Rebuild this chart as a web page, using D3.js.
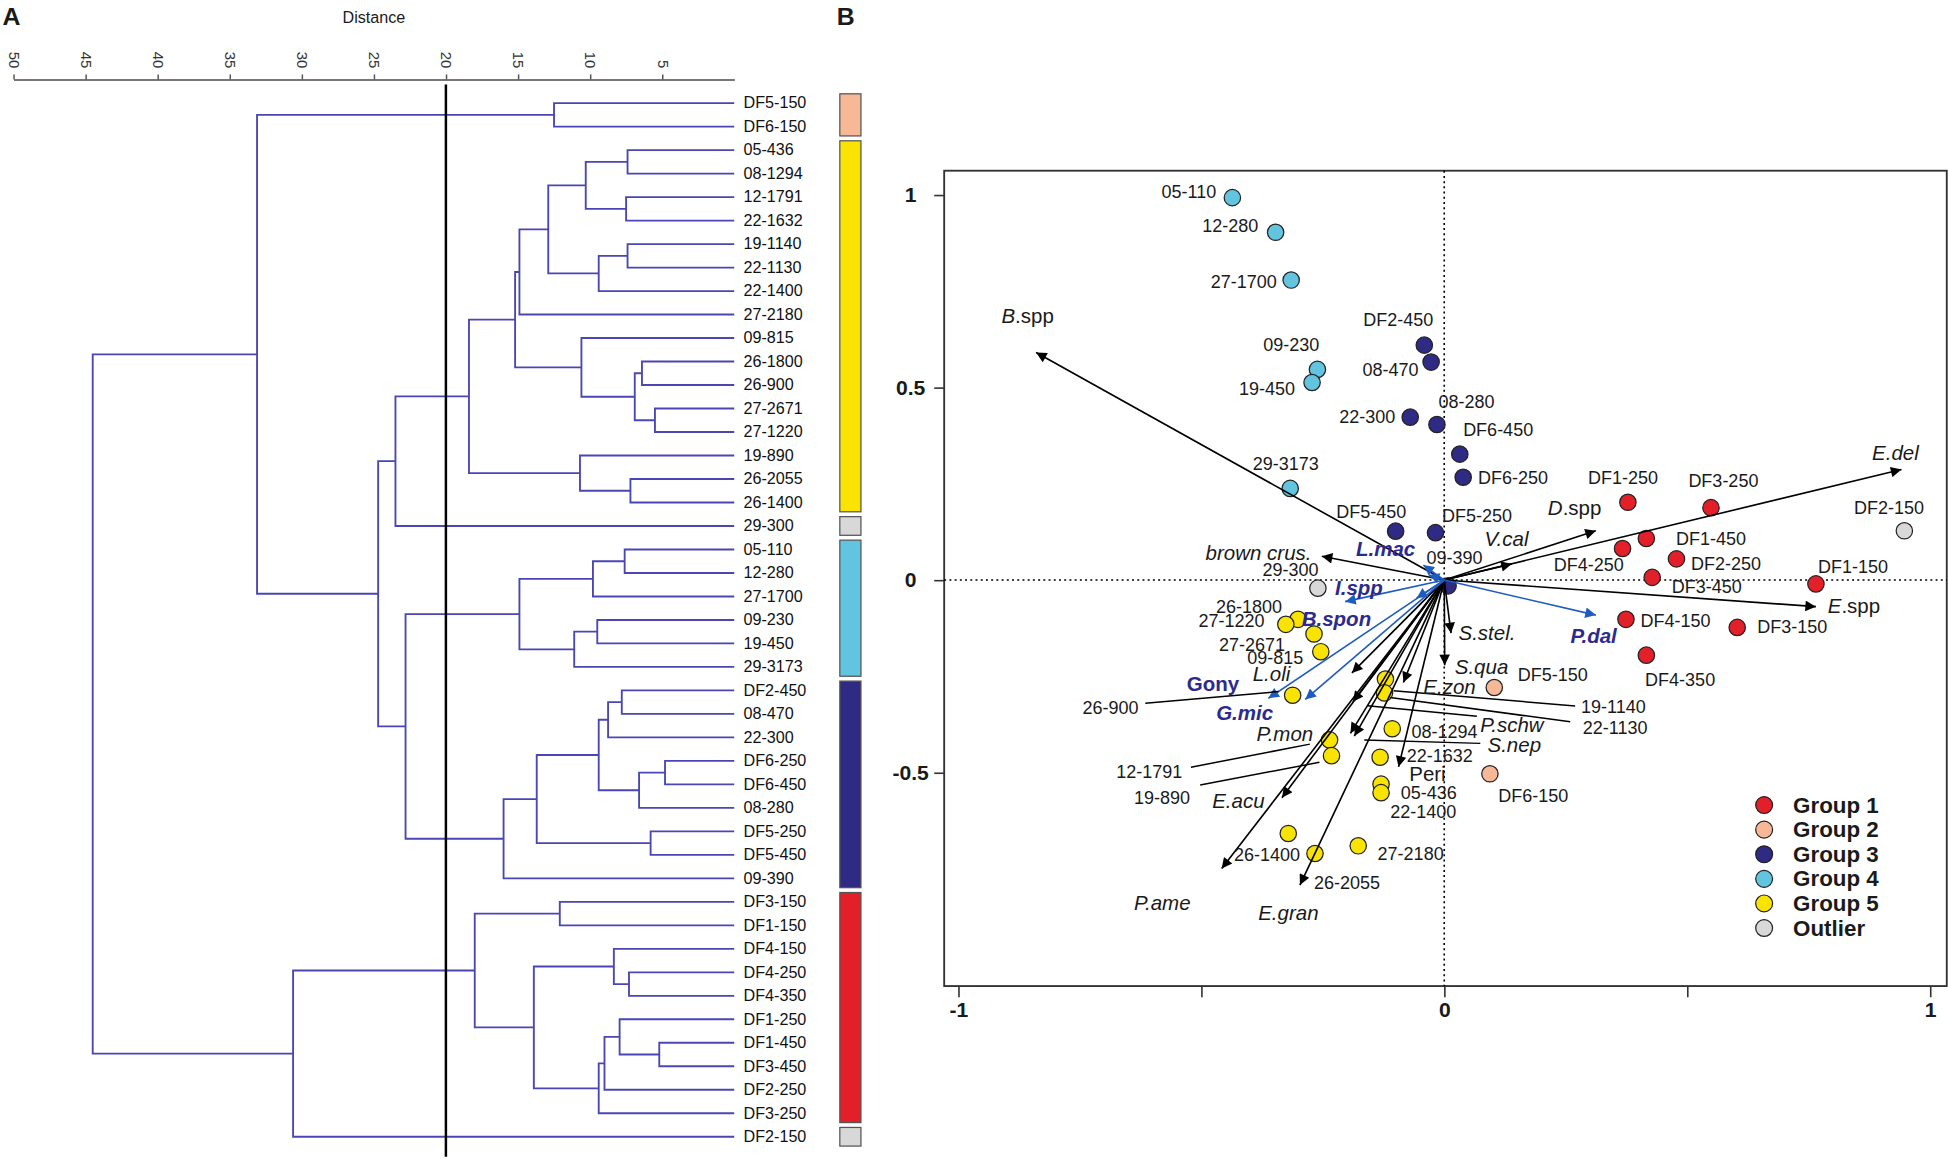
<!DOCTYPE html>
<html>
<head>
<meta charset="utf-8">
<title>Cluster dendrogram and PCA biplot</title>
<script src="https://d3js.org/d3.v7.min.js"></script>
<style>
  body { margin: 0; background: #fff; }
  svg { display: block; font-family: "Liberation Sans", Arial, Helvetica, sans-serif; }
</style>
</head>
<body>
<div id="chart"></div>
<script>
// ---------- data ----------
// dendrogram leaves, top to bottom
var leaves = ["DF5-150","DF6-150","05-436","08-1294","12-1791","22-1632","19-1140","22-1130",
  "22-1400","27-2180","09-815","26-1800","26-900","27-2671","27-1220","19-890","26-2055",
  "26-1400","29-300","05-110","12-280","27-1700","09-230","19-450","29-3173","DF2-450",
  "08-470","22-300","DF6-250","DF6-450","08-280","DF5-250","DF5-450","09-390","DF3-150",
  "DF1-150","DF4-150","DF4-250","DF4-350","DF1-250","DF1-450","DF3-450","DF2-250",
  "DF3-250","DF2-150"];

// merges: [child a, child b, distance]; node i gets id "n" + (i + 1)
var merges = [
  ["DF5-150","DF6-150",12.5], ["05-436","08-1294",7.4], ["12-1791","22-1632",7.5],
  ["n2","n3",10.3], ["19-1140","22-1130",7.4], ["n5","22-1400",9.4], ["n4","n6",12.9],
  ["n7","27-2180",14.9], ["26-1800","26-900",6.4], ["27-2671","27-1220",5.5],
  ["n9","n10",6.9], ["09-815","n11",10.6], ["n8","n12",15.2], ["26-2055","26-1400",7.2],
  ["19-890","n14",10.7], ["n13","n15",18.4], ["n16","29-300",23.5], ["05-110","12-280",7.6],
  ["n18","27-1700",9.8], ["09-230","19-450",9.5], ["n20","29-3173",11.1], ["n19","n21",14.9],
  ["DF2-450","08-470",7.8], ["n23","22-300",8.75], ["DF6-250","DF6-450",4.8],
  ["n25","08-280",6.6], ["n24","n26",9.4], ["DF5-250","DF5-450",5.8], ["n27","n28",13.7],
  ["n29","09-390",16.0], ["n22","n30",22.8], ["n17","n31",24.7], ["n1","n32",33.1],
  ["DF3-150","DF1-150",12.1], ["DF4-250","DF4-350",7.3], ["DF4-150","n35",8.35],
  ["DF1-450","DF3-450",5.2], ["DF1-250","n37",7.95], ["n38","DF2-250",9.0],
  ["n39","DF3-250",9.4], ["n36","n40",13.9], ["n34","n41",18.0], ["n42","DF2-150",30.6],
  ["n33","n43",44.5]
];
var cutDistance = 20;
var distTicks = [50,45,40,35,30,25,20,15,10,5];

var groupNames = ["Group 1","Group 2","Group 3","Group 4","Group 5","Outlier"];
var groupColors = ["#e3202a","#f6b896","#2f2a83","#62c4df","#f9e300","#d8d8d8"];

// sites: [name, group (1-5, 6 = outlier), axis 1, axis 2]
var sites = [
  ["05-110",4,-0.436,0.993], ["12-280",4,-0.347,0.903], ["27-1700",4,-0.315,0.779],
  ["09-230",4,-0.261,0.547], ["19-450",4,-0.272,0.513], ["29-3173",4,-0.317,0.238],
  ["DF2-450",3,-0.041,0.610], ["08-470",3,-0.027,0.566], ["22-300",3,-0.070,0.423],
  ["08-280",3,-0.015,0.404], ["DF6-450",3,0.032,0.327], ["DF6-250",3,0.039,0.267],
  ["DF5-450",3,-0.100,0.127], ["DF5-250",3,-0.018,0.123], ["09-390",3,0.008,-0.015],
  ["DF1-250",1,0.378,0.202], ["DF3-250",1,0.549,0.188], ["DF1-450",1,0.416,0.108],
  ["DF4-250",1,0.367,0.082], ["DF2-250",1,0.478,0.055], ["DF3-450",1,0.428,0.007],
  ["DF1-150",1,0.765,-0.010], ["DF4-150",1,0.374,-0.102], ["DF3-150",1,0.603,-0.123],
  ["DF4-350",1,0.416,-0.195], ["DF5-150",2,0.103,-0.279], ["DF6-150",2,0.094,-0.503],
  ["DF2-150",6,0.947,0.128], ["29-300",6,-0.260,-0.021],
  ["26-1800",5,-0.301,-0.102], ["27-1220",5,-0.326,-0.115], ["27-2671",5,-0.268,-0.140],
  ["09-815",5,-0.254,-0.186], ["26-900",5,-0.312,-0.299], ["12-1791",5,-0.236,-0.415],
  ["19-890",5,-0.232,-0.456], ["26-1400",5,-0.321,-0.658], ["26-2055",5,-0.266,-0.710],
  ["27-2180",5,-0.177,-0.690], ["19-1140",5,-0.121,-0.257], ["22-1130",5,-0.123,-0.293],
  ["08-1294",5,-0.107,-0.386], ["22-1632",5,-0.132,-0.460], ["05-436",5,-0.130,-0.530],
  ["22-1400",5,-0.130,-0.552]
];

// species vectors: [name, axis 1, axis 2]
var species = [
  ["B.spp",-0.840,0.591], ["brown crus.",-0.252,0.062], ["E.del",0.941,0.287],
  ["D.spp",0.312,0.128], ["V.cal",0.139,0.042], ["E.spp",0.765,-0.069],
  ["S.stel.",0.014,-0.138], ["S.qua",0.001,-0.221], ["E.zon",-0.084,-0.266],
  ["Peri",-0.094,-0.485], ["P.schw",-0.188,-0.316], ["S.nep",-0.185,-0.405],
  ["P.mon",-0.193,-0.398], ["L.oli",-0.190,-0.241], ["E.acu",-0.334,-0.565],
  ["P.ame",-0.458,-0.749], ["E.gran",-0.297,-0.792]
];
var keySpecies = [
  ["L.mac",-0.043,0.039], ["",-0.032,0.013], ["I.spp",-0.204,-0.056],
  ["B.spon",-0.057,-0.047], ["Gony",-0.362,-0.307], ["G.mic",-0.286,-0.310],
  ["P.dal",0.312,-0.091]
];
var pcaTicksX = [-1,-0.5,0,0.5,1];
var pcaTicksY = [1,0.5,0,-0.5];

// ---------- label layout (px offsets from the mark: dx, dy, anchor, optional leader) ----------
var siteLabelAt = {
  "05-110":[-13,-4.7,"end"], "12-280":[-14,-5,"end"], "27-1700":[-11.5,1.3,"end"],
  "09-230":[1.6,-19.6,"end"], "19-450":[-13.7,5.4,"end"], "29-3173":[-3.5,-19.5,"middle"],
  "DF2-450":[7.3,-20,"end"], "08-470":[-10.2,6.4,"end"], "22-300":[-12,0,"end"],
  "08-280":[1.2,-18.3,"start"], "DF6-450":[2.7,-19.3,"start"], "DF6-250":[12,1,"start"],
  "DF5-450":[8.6,-15.5,"end"], "DF5-250":[5.3,-13.7,"start"], "09-390":[-17.4,-22,"start"],
  "DF1-250":[-4,-19.3,"middle"], "DF3-250":[10,-21.7,"middle"], "DF1-450":[23.8,0.6,"start"],
  "DF4-250":[1,13,"end"], "DF2-250":[11.6,4.3,"start"], "DF3-450":[15.7,8.1,"start"],
  "DF1-150":[1.7,-13.9,"start"], "DF4-150":[11.7,1.1,"start"], "DF3-150":[16.2,0,"start"],
  "DF4-350":[-1,20.2,"start"], "DF5-150":[18.9,-10.1,"start"], "DF6-150":[6.7,17.9,"start"],
  "DF2-150":[-12.3,-18,"middle"], "29-300":[0.5,-15,"end"],
  "26-1800":[-12.9,-10.2,"end"], "27-1220":[-17.2,-2.7,"end"], "27-2671":[-23.3,8.9,"end"],
  "09-815":[-14.1,5.4,"end"],
  "26-900":[-124,10.5,"end",[-118.6,6.5,-11.3,-2.9]],
  "12-1791":[-118.6,25.5,"end",[-111.6,22,-15.8,3.4]],
  "19-890":[-113.8,33.8,"end",[-105.7,23.6,-9.7,5.3]],
  "26-1400":[9.5,17.4,"end"], "26-2055":[-0.8,24.1,"start"], "27-2180":[15.6,6.7,"start"],
  "19-1140":[157.5,22.3,"start",[6.5,9.4,152.7,21.7]],
  "22-1130":[159.6,27.9,"start",[4.6,3.7,149.5,23.3]],
  "08-1294":[15.5,2.4,"start"], "22-1632":[21.4,-1,"start"], "05-436":[15.9,7,"start"],
  "22-1400":[7.3,15.6,"start"]
};
var speciesLabelAt = {
  "B.spp":[-27.9,-30,"start"], "brown crus.":[-8.3,-2.7,"end"], "E.del":[-23.6,-13.4,"start"],
  "D.spp":[-38.6,-18.8,"start"], "V.cal":[-22,-20.1,"start"], "E.spp":[9.5,-1.4,"start"],
  "S.stel.":[6,-0.5,"start"], "S.qua":[8.1,1.3,"start"], "E.zon":[16,3.2,"start"],
  "Peri":[8.6,5.4,"start"],
  "P.schw":[102.5,18,"start",[11.7,3.2,99.8,11.6]],
  "S.nep":[107.2,6.5,"start",[8,3.2,101.4,5.9]],
  "P.mon":[-30,0.4,"end"], "L.oli":[-49.6,0.5,"end"], "E.acu":[-14,2,"end"],
  "P.ame":[-70.6,27.3,"start"], "E.gran":[-33.6,22,"start"],
  "L.mac":[-54.2,-13.4,"start"], "I.spp":[-8.1,-11.5,"start"], "B.spon":[-92.4,16.1,"start"],
  "Gony":[-65.7,-12.1,"start"], "G.mic":[-71.7,10.8,"start"], "P.dal":[-20.4,16.2,"start"]
};

// ---------- svg ----------
var W = 1568, H = 934.5;
var svg = d3.select("#chart").append("svg")
  .attr("width", 1948).attr("height", 1161)
  .attr("viewBox", "0 0 " + W + " " + H);

var ink = "#1a1a1a";
var dendroColor = "#4a47b4";
var blue = "#1f5cbf", keyText = "#2c2a8e";

// ================= panel A: dendrogram =================
var gA = svg.append("g");
gA.append("text").attr("x", 2).attr("y", 20.5)
  .style("font-size", "20px").style("font-weight", "bold").attr("fill", ink).text("A");
gA.append("text").attr("x", 301).attr("y", 13.5).attr("text-anchor", "middle")
  .attr("dominant-baseline", "central").style("font-size", "13px").attr("fill", ink)
  .text("Distance");

var dx = d3.scaleLinear().domain([50, 0]).range([10.8, 591]);
var leafY = d3.scalePoint().domain(leaves).range([83, 915]);

var axisA = gA.append("g").attr("transform", "translate(0,63.9)")
  .call(d3.axisTop(dx).tickValues(distTicks).tickSize(4).tickSizeOuter(0)
    .tickFormat(function (d) { return String(d); }));
axisA.select(".domain").attr("stroke", "#777").attr("stroke-width", 1.5);
axisA.selectAll(".tick line").attr("stroke", "#555").attr("stroke-width", 1.2);
axisA.selectAll(".tick text")
  .attr("transform", "rotate(90)").attr("x", -9).attr("y", 0).attr("dy", "0.35em")
  .style("text-anchor", "end").style("font-size", "12px")
  .style("font-family", "'Liberation Sans', Arial, sans-serif").attr("fill", "#333");

// build tree
var nodes = {};
leaves.forEach(function (n) { nodes[n] = { x: dx(0), y: leafY(n) }; });
var segs = [];
merges.forEach(function (m, i) {
  var a = nodes[m[0]], b = nodes[m[1]], x = dx(m[2]);
  nodes["n" + (i + 1)] = { x: x, y: (a.y + b.y) / 2 };
  segs.push("M" + a.x + "," + a.y + "H" + x + "V" + b.y + "H" + b.x);
});
gA.append("g").selectAll("path").data(segs).enter().append("path")
  .attr("d", function (d) { return d; })
  .attr("fill", "none").attr("stroke", dendroColor).attr("stroke-width", 1.5);

// cut line
gA.append("line").attr("x1", dx(cutDistance)).attr("x2", dx(cutDistance))
  .attr("y1", 68).attr("y2", 931).attr("stroke", "#000").attr("stroke-width", 2);

// leaf labels
gA.append("g").selectAll("text").data(leaves).enter().append("text")
  .attr("x", 598.5).attr("y", function (d) { return leafY(d) - 0.5; })
  .attr("dominant-baseline", "central").style("font-size", "13px").attr("fill", "#111")
  .text(function (d) { return d; });

// group bars from consecutive runs of the same group
var groupOf = {};
sites.forEach(function (s) { groupOf[s[0]] = s[1]; });
var runs = [];
leaves.forEach(function (n) {
  var g = groupOf[n], last = runs[runs.length - 1];
  if (last && last.g === g) last.end = n; else runs.push({ g: g, start: n, end: n });
});
gA.append("g").selectAll("rect").data(runs).enter().append("rect")
  .attr("x", 676).attr("width", 17)
  .attr("y", function (d) { return leafY(d.start) - 7.5; })
  .attr("height", function (d) { return leafY(d.end) - leafY(d.start) + 15; })
  .attr("fill", function (d) { return groupColors[d.g - 1]; })
  .attr("stroke", "#555").attr("stroke-width", 1);

// ================= panel B: ordination =================
var gB = svg.append("g");
gB.append("text").attr("x", 673.5).attr("y", 20)
  .style("font-size", "20px").style("font-weight", "bold").attr("fill", ink).text("B");

var fL = 760, fR = 1567, fT = 137.4, fB = 793.7;
var xS = d3.scaleLinear().domain([-1, 1]).range([771.4, 1553.6]);
var yS = d3.scaleLinear().domain([0, 1]).range([466.9, 156.9]);

gB.append("rect").attr("x", fL).attr("y", fT).attr("width", fR - fL).attr("height", fB - fT)
  .attr("fill", "none").attr("stroke", "#333").attr("stroke-width", 1.5);

var axY = gB.append("g").attr("transform", "translate(" + fL + ",0)")
  .call(d3.axisLeft(yS).tickValues(pcaTicksY).tickSize(8)
    .tickFormat(function (d) { return String(d); }));
var axX = gB.append("g").attr("transform", "translate(0," + fB + ")")
  .call(d3.axisBottom(xS).tickValues(pcaTicksX).tickSize(9).tickPadding(4)
    .tickFormat(function (d) { return d % 1 === 0 ? String(d) : ""; }));
[axY, axX].forEach(function (ax) {
  ax.select(".domain").remove();
  ax.selectAll(".tick line").attr("stroke", "#333").attr("stroke-width", 1.3);
  ax.selectAll(".tick text").attr("fill", ink).style("font-size", "17px")
    .style("font-weight", "bold").style("font-family", "'Liberation Sans', Arial, sans-serif");
});
axY.selectAll(".tick text").attr("x", -27).style("text-anchor", "middle");

// zero lines
gB.append("line").attr("x1", xS(0)).attr("x2", xS(0)).attr("y1", fT).attr("y2", fB)
  .attr("stroke", "#000").attr("stroke-width", 1.3).attr("stroke-dasharray", "1.6,2.6");
gB.append("line").attr("x1", fL).attr("x2", fR).attr("y1", yS(0)).attr("y2", yS(0))
  .attr("stroke", "#000").attr("stroke-width", 1.3).attr("stroke-dasharray", "1.6,2.6");

// arrow markers
var defs = svg.append("defs");
[["headBlack", "#000"], ["headBlue", blue]].forEach(function (m) {
  defs.append("marker").attr("id", m[0]).attr("viewBox", "0 0 10 10")
    .attr("refX", 10).attr("refY", 5).attr("markerWidth", 11).attr("markerHeight", 8.5)
    .attr("markerUnits", "userSpaceOnUse").attr("orient", "auto")
    .append("path").attr("d", "M0,0L10,5L0,10Z").attr("fill", m[1]);
});

function px(d) { return xS(d[2]); }
function py(d) { return yS(d[3]); }

// site points
gB.append("g").selectAll("circle").data(sites).enter().append("circle")
  .attr("cx", px).attr("cy", py).attr("r", 6.6)
  .attr("fill", function (d) { return groupColors[d[1] - 1]; })
  .attr("stroke", "#222").attr("stroke-width", 1);

// species arrows
var ox = xS(0), oy = yS(0);
gB.append("g").selectAll("line").data(species).enter().append("line")
  .attr("x1", ox).attr("y1", oy)
  .attr("x2", function (d) { return xS(d[1]); }).attr("y2", function (d) { return yS(d[2]); })
  .attr("stroke", "#000").attr("stroke-width", 1.3).attr("marker-end", "url(#headBlack)");
gB.append("g").selectAll("line").data(keySpecies).enter().append("line")
  .attr("x1", ox).attr("y1", oy)
  .attr("x2", function (d) { return xS(d[1]); }).attr("y2", function (d) { return yS(d[2]); })
  .attr("stroke", blue).attr("stroke-width", 1.3).attr("marker-end", "url(#headBlue)");

// leader lines
var leaders = [];
sites.forEach(function (s) {
  var L = siteLabelAt[s[0]];
  if (L && L[3]) leaders.push([xS(s[2]), yS(s[3]), L[3]]);
});
species.forEach(function (s) {
  var L = speciesLabelAt[s[0]];
  if (L && L[3]) leaders.push([xS(s[1]), yS(s[2]), L[3]]);
});
gB.append("g").selectAll("line").data(leaders).enter().append("line")
  .attr("x1", function (d) { return d[0] + d[2][0]; }).attr("y1", function (d) { return d[1] + d[2][1]; })
  .attr("x2", function (d) { return d[0] + d[2][2]; }).attr("y2", function (d) { return d[1] + d[2][3]; })
  .attr("stroke", "#000").attr("stroke-width", 1.2);

// site labels
gB.append("g").selectAll("text").data(sites).enter().append("text")
  .attr("x", function (d) { return px(d) + siteLabelAt[d[0]][0]; })
  .attr("y", function (d) { return py(d) + siteLabelAt[d[0]][1]; })
  .attr("text-anchor", function (d) { return siteLabelAt[d[0]][2]; })
  .attr("dominant-baseline", "central").style("font-size", "14.5px").attr("fill", ink)
  .text(function (d) { return d[0]; });

// species labels
function placeLabel(sel) {
  sel.attr("x", function (d) { return xS(d[1]) + speciesLabelAt[d[0]][0]; })
    .attr("y", function (d) { return yS(d[2]) + speciesLabelAt[d[0]][1]; })
    .attr("text-anchor", function (d) { return speciesLabelAt[d[0]][2]; })
    .attr("dominant-baseline", "central").style("font-size", "16.5px");
}
var spText = gB.append("g").selectAll("text").data(species).enter().append("text")
  .call(placeLabel).attr("fill", ink);
spText.each(function (d) {
  var t = d3.select(this), name = d[0];
  if (name === "Peri") { t.text(name); return; }
  if (/\.spp$/.test(name)) {
    t.append("tspan").style("font-style", "italic").text(name.split(".")[0]);
    t.append("tspan").text(name.slice(name.indexOf(".")));
    return;
  }
  t.style("font-style", "italic").text(name);
});
gB.append("g").selectAll("text").data(keySpecies.filter(function (d) { return d[0]; }))
  .enter().append("text").call(placeLabel)
  .attr("fill", keyText).style("font-weight", "bold")
  .style("font-style", function (d) { return d[0] === "Gony" ? "normal" : "italic"; })
  .text(function (d) { return d[0]; });

// legend
var leg = gB.append("g").selectAll("g").data(groupNames).enter().append("g")
  .attr("transform", function (d, i) { return "translate(1420," + (648 + i * 19.8) + ")"; });
leg.append("circle").attr("r", 6.8)
  .attr("fill", function (d, i) { return groupColors[i]; })
  .attr("stroke", "#222").attr("stroke-width", 1);
leg.append("text").attr("x", 23.3).attr("dominant-baseline", "central")
  .style("font-size", "18px").style("font-weight", "bold").attr("fill", ink)
  .text(function (d) { return d; });
</script>
</body>
</html>
